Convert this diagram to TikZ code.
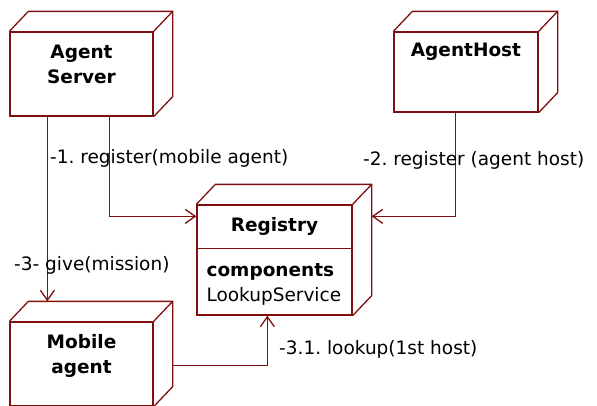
\documentclass[tikz,border=0pt]{standalone}
\usepackage{fontspec}
\setmainfont{DejaVu Sans}
\usetikzlibrary{arrows.meta, positioning, calc}
\definecolor{umlred}{RGB}{128,16,16}
\tikzstyle{flow} = [umlred, line width=1.3pt, -{Straight Barb[length=10pt,width=14pt]}]
% back edges of a 3D node box
\newcommand{\nodedepth}[1]{%
  \draw[umlred, line width=1.3pt] (#1.north west) -- ([shift={(19,-20)}]#1.north west)
    -- ([shift={(19,-20)}]#1.north east) -- ([shift={(19,-20)}]#1.south east) -- (#1.south east);
  \draw[umlred, line width=1.3pt] (#1.north east) -- ([shift={(19,-20)}]#1.north east);}
\frenchspacing

\begin{document}
\begin{tikzpicture}[
	x=1pt, y=-1pt,
	every node/.style={font=\fontsize{18.5}{25}\selectfont, inner sep=0pt},
	cube/.style={rectangle, draw=umlred, line width=1.3pt, minimum width=143pt, minimum height=84pt},
	title/.style={font=\fontsize{18.5}{25}\selectfont\bfseries, align=center},
	msg/.style={anchor=west}
]
\useasboundingbox (0,0) rectangle (597,405);

% Nodes
\node[cube] (srv) at (81.5,74) {};
\node[cube, minimum width=144pt, minimum height=80pt] (host) at (466,72) {};
\node[cube, minimum width=155pt, minimum height=110pt] (reg) at (274.5,260) {};
\node[cube] (mob) at (81.5,364) {};
\nodedepth{srv}
\nodedepth{host}
\nodedepth{reg}
\nodedepth{mob}

% Node texts
\node[title, below=13pt of srv.north] (srvname) {Agent\\Server};
\node[title, below=11pt of host.north] (hostname) {AgentHost};
\node[title, below=13pt of reg.north] (regname) {Registry};
\draw[umlred, line width=1.3pt] ([yshift=-44]reg.north west) -- ([yshift=-44]reg.north east);
\node[align=left, anchor=north west, below right=59pt and 10pt of reg.north west] (regbody) {\textbf{components}\\LookupService};
\node[title, below=13pt of mob.north] (mobname) {Mobile\\agent};

% Messages
\draw[flow] ([xshift=38]srv.south west) -- ([xshift=38,yshift=20]mob.north west);
\draw[flow] ([xshift=100]srv.south west) |- ([yshift=-12]reg.north west);
\draw[flow] ([xshift=62]host.south west) |- ([xshift=19,yshift=-12]reg.north east);
\draw[flow] ([xshift=19,yshift=-44]mob.north east) -| ([xshift=71]reg.south west);

\node[msg] (m1) at (50,158) {-1. register(mobile agent)};
\node[msg] (m2) at (363,160) {-2. register (agent host)};
\node[msg] (m3) at (14,265) {-3- give(mission)};
\node[msg] (m31) at (279,349) {-3.1. lookup(1st host)};

\end{tikzpicture}
\end{document}
